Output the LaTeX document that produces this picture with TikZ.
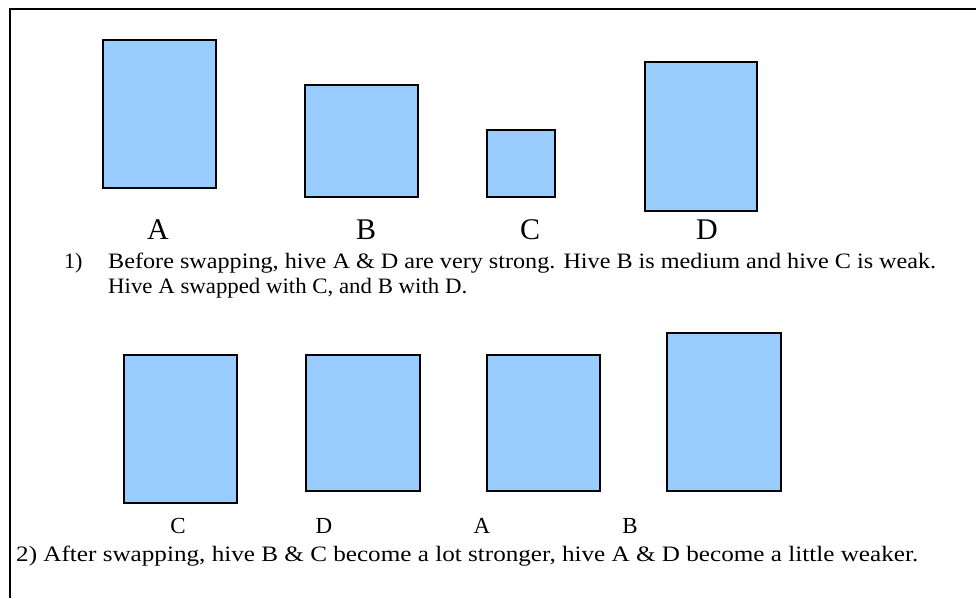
\documentclass[tikz,border=0pt]{standalone}
\usepackage{fontspec}
\setmainfont{Liberation Serif}
\definecolor{hive}{HTML}{99CCFF}
\begin{document}
\begin{tikzpicture}[x=1pt,y=-1pt,
  hivebox/.style={draw=black, line width=1.5pt, fill=hive, inner sep=0pt, outer sep=0pt, anchor=north west},
  biglab/.style={font=\fontsize{30}{30}\selectfont, inner sep=0pt, anchor=base},
  smalllab/.style={font=\fontsize{23}{23}\selectfont, inner sep=0pt, anchor=base},
  txt/.style={font=\fontsize{22}{24}\selectfont, inner sep=0pt, anchor=base west}]
\useasboundingbox (0,0) rectangle (976,598);
\draw[line width=2pt] (10,598) -- (10,9) -- (976,9);
% row 1
\node[hivebox, minimum width=113pt, minimum height=148pt] (a1) at (103,40) {};
\node[hivebox, minimum width=113pt, minimum height=112pt] (b1) at (305,85) {};
\node[hivebox, minimum width=68pt, minimum height=67pt] (c1) at (487,130) {};
\node[hivebox, minimum width=112pt, minimum height=149pt] (d1) at (645,62) {};
\node[biglab] (la1) at (158,239) {A};
\node[biglab] (lb1) at (366,239) {B};
\node[biglab] (lc1) at (530,239) {C};
\node[biglab] (ld1) at (707,239) {D};
\node[txt] (n1) at (64,268) {1)};
\node[txt] (t1) at (108,268) {\resizebox{828pt}{\height}{Before swapping, hive A \& D are very strong. Hive B is medium and hive C is weak.}};
\node[txt] (t2) at (108,293) {\resizebox{359pt}{\height}{Hive A swapped with C, and B with D.}};
% row 2
\node[hivebox, minimum width=113pt, minimum height=148pt] (c2) at (124,355) {};
\node[hivebox, minimum width=114pt, minimum height=136pt] (d2) at (306,355) {};
\node[hivebox, minimum width=113pt, minimum height=136pt] (a2) at (487,355) {};
\node[hivebox, minimum width=114pt, minimum height=158pt] (b2) at (667,333) {};
\node[smalllab] (lc2) at (178,533) {C};
\node[smalllab] (ld2) at (324,533) {D};
\node[smalllab] (la2) at (482,533) {A};
\node[smalllab] (lb2) at (630,533) {B};
\node[txt] (t3) at (16,561) {\resizebox{902pt}{\height}{2) After swapping, hive B \& C become a lot stronger, hive A \& D become a little weaker.}};
\end{tikzpicture}
\end{document}
